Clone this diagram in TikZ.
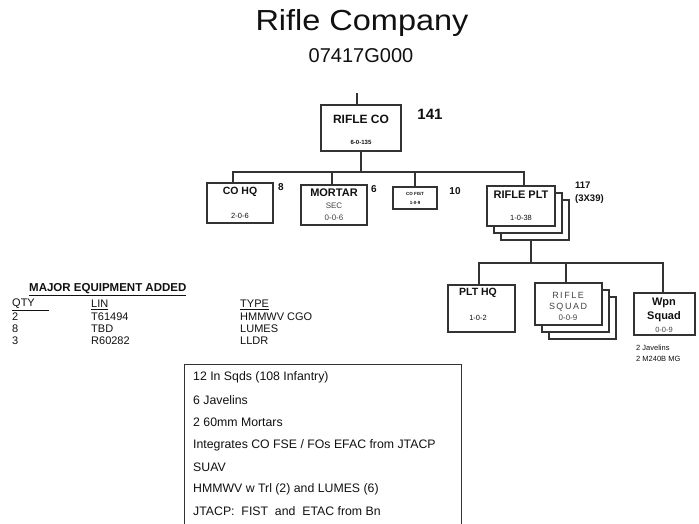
\documentclass[tikz,border=0pt]{standalone}
\usepackage{fontspec}
\setmainfont{Liberation Sans}
\definecolor{linec}{HTML}{333333}
\definecolor{txt}{HTML}{111111}
\definecolor{gtxt}{HTML}{444444}
\tikzset{
  box/.style={draw=linec, line width=1.3pt, fill=white, inner sep=0pt},
  conn/.style={draw=linec, line width=1.3pt},
  lbl/.style={inner sep=0pt, text=txt},
  bl/.style={lbl, font=\bfseries\fontsize{#1}{#1}\selectfont},
  rl/.style={lbl, font=\fontsize{#1}{#1}\selectfont},
}
\begin{document}
\begin{tikzpicture}[x=1pt,y=-1pt]
\useasboundingbox (0,0) rectangle (699,523);
\clip (0,0) rectangle (699,523);
\fill[white] (0,0) rectangle (699,523);

% title
\node[rl=29, xscale=1.12] (title) at (362,23) {Rifle Company};
\node[rl=20] (sub) at (361,56) {07417G000};

% RIFLE CO
\node[box, minimum width=80pt, minimum height=46pt] (co) at (361,128) {};
\node[bl=12] (coT) at (361,119) {RIFLE CO};
\node[bl=6] (coN) at (361,142) {6-0-135};
\node[bl=15] (co141) at (430,114) {141};
\coordinate (top) at (357,93);
\draw[conn] (top) -- (top |- co.north);

% second level
\node[box, minimum width=66pt, minimum height=40pt] (cohq) at (240,203) {};
\node[bl=10.5] (cohqT) at (240,192) {CO HQ};
\node[rl=7.5] (cohqN) at (240,216) {2-0-6};
\node[bl=10] (cohq8) at (281,187) {8};

\node[box, minimum width=66pt, minimum height=40pt] (mortar) at (334,205) {};
\node[bl=11] (mortT) at (334,193) {MORTAR};
\node[rl=8, text=gtxt] (mortS) at (334,206) {SEC};
\node[rl=8, text=gtxt] (mortN) at (334,218) {0-0-6};
\node[bl=10] (mort6) at (374,189) {6};

\node[box, minimum width=44pt, minimum height=22pt] (fist) at (415,198) {};
\node[bl=4.5] (fistT) at (415,194) {CO FIST};
\node[bl=4.5] (fistN) at (415,203) {1-0-9};
\node[bl=10] (fist10) at (455,191) {10};

\node[box, minimum width=68pt, minimum height=40pt] (rplt3) at (535,220) {};
\node[box, minimum width=68pt, minimum height=40pt] (rplt2) at (528,213) {};
\node[box, minimum width=68pt, minimum height=40pt] (rplt) at (521,206) {};
\node[bl=11] (rpltT) at (521,195) {RIFLE PLT};
\node[rl=7.5] (rpltN) at (521,218) {1-0-38};
\node[bl=9.5, anchor=west] (rplt117) at (575,185) {117};
\node[bl=9.5, anchor=west] (rplt3x) at (575,199) {(3X39)};

\coordinate (bus1) at (361,172);
\draw[conn] (co.south) -- (bus1);
\draw[conn] ([xshift=-7pt]cohq.north) |- (bus1);
\draw[conn] ([xshift=3pt]rplt.north) |- (bus1);
\draw[conn] ([xshift=-2pt]mortar.north) -- ([xshift=-2pt]mortar.north |- bus1);
\draw[conn] (fist.north) -- (fist.north |- bus1);

% third level
\node[box, minimum width=67pt, minimum height=47pt] (plthq) at (481.5,308.5) {};
\node[bl=10.5] (plthqT) at (478,293) {PLT HQ};
\node[rl=7.5] (plthqN) at (478,318) {1-0-2};

\node[box, minimum width=67pt, minimum height=42pt] (rsq3) at (582.5,318) {};
\node[box, minimum width=67pt, minimum height=42pt] (rsq2) at (575.5,311) {};
\node[box, minimum width=67pt, minimum height=42pt] (rsq) at (568.5,304) {};
\node[rl=9, text=gtxt] (rsqA) at (568,295) {R\,I\,F\,L\,E};
\node[rl=9, text=gtxt] (rsqB) at (568,307) {S\,Q\,U\,A\,D};
\node[rl=8, text=gtxt] (rsqN) at (568,318) {0-0-9};

\node[box, minimum width=61pt, minimum height=42pt] (wpn) at (664.5,314) {};
\node[bl=11] (wpnA) at (664,303) {Wpn};
\node[bl=11] (wpnB) at (664,317) {Squad};
\node[rl=7.5, text=gtxt] (wpnN) at (664,330) {0-0-9};
\node[rl=7.5, anchor=west] (jav) at (636,348) {2 Javelins};
\node[rl=7.5, anchor=west] (mg) at (636,359) {2 M240B MG};

\coordinate (bus2) at (531,263);
\draw[conn] (bus2 |- rplt3.south) -- (bus2);
\draw[conn] ([xshift=-2.5pt]plthq.north) |- (bus2);
\draw[conn] ([xshift=-1.5pt]wpn.north) |- (bus2);
\draw[conn] ([xshift=-2.5pt]rsq.north) -- ([xshift=-2.5pt]rsq.north |- bus2);

% equipment table
\node[bl=11.5, anchor=west] (majeq) at (29,290) {\underline{MAJOR EQUIPMENT ADDED}};
\node[rl=11, anchor=west] (hq) at (12,305) {\underline{QTY\hspace{14pt}}};
\node[rl=11, anchor=west] (hl) at (91,305) {\underline{LIN}};
\node[rl=11, anchor=west] (ht) at (240,305) {\underline{TYPE}};
\node[rl=11, anchor=west] (q1) at (12,317) {2};
\node[rl=11, anchor=west] (l1) at (91,317) {T61494};
\node[rl=11, anchor=west] (t1) at (240,317) {HMMWV CGO};
\node[rl=11, anchor=west] (q2) at (12,329) {8};
\node[rl=11, anchor=west] (l2) at (91,329) {TBD};
\node[rl=11, anchor=west] (t2) at (240,329) {LUMES};
\node[rl=11, anchor=west] (q3) at (12,341) {3};
\node[rl=11, anchor=west] (l3) at (91,341) {R60282};
\node[rl=11, anchor=west] (t3) at (240,341) {LLDR};

% info box
\draw[conn, line width=1pt] (184,530) -- (184,364) -- (461,364) -- (461,530);
\node[rl=12.3, anchor=west] (i1) at (193,377) {12 In Sqds (108 Infantry)};
\node[rl=12.3, anchor=west] (i2) at (193,400) {6 Javelins};
\node[rl=12.3, anchor=west] (i3) at (193,422) {2 60mm Mortars};
\node[rl=12.3, anchor=west] (i4) at (193,445) {Integrates CO FSE / FOs EFAC from JTACP};
\node[rl=12.3, anchor=west] (i5) at (193,467) {SUAV};
\node[rl=12.3, anchor=west] (i6) at (193,489) {HMMWV w Trl (2) and LUMES (6)};
\node[rl=12.3, anchor=west] (i7) at (193,511) {JTACP:\ \ FIST\ \ and\ \ ETAC from Bn};
\end{tikzpicture}
\end{document}
